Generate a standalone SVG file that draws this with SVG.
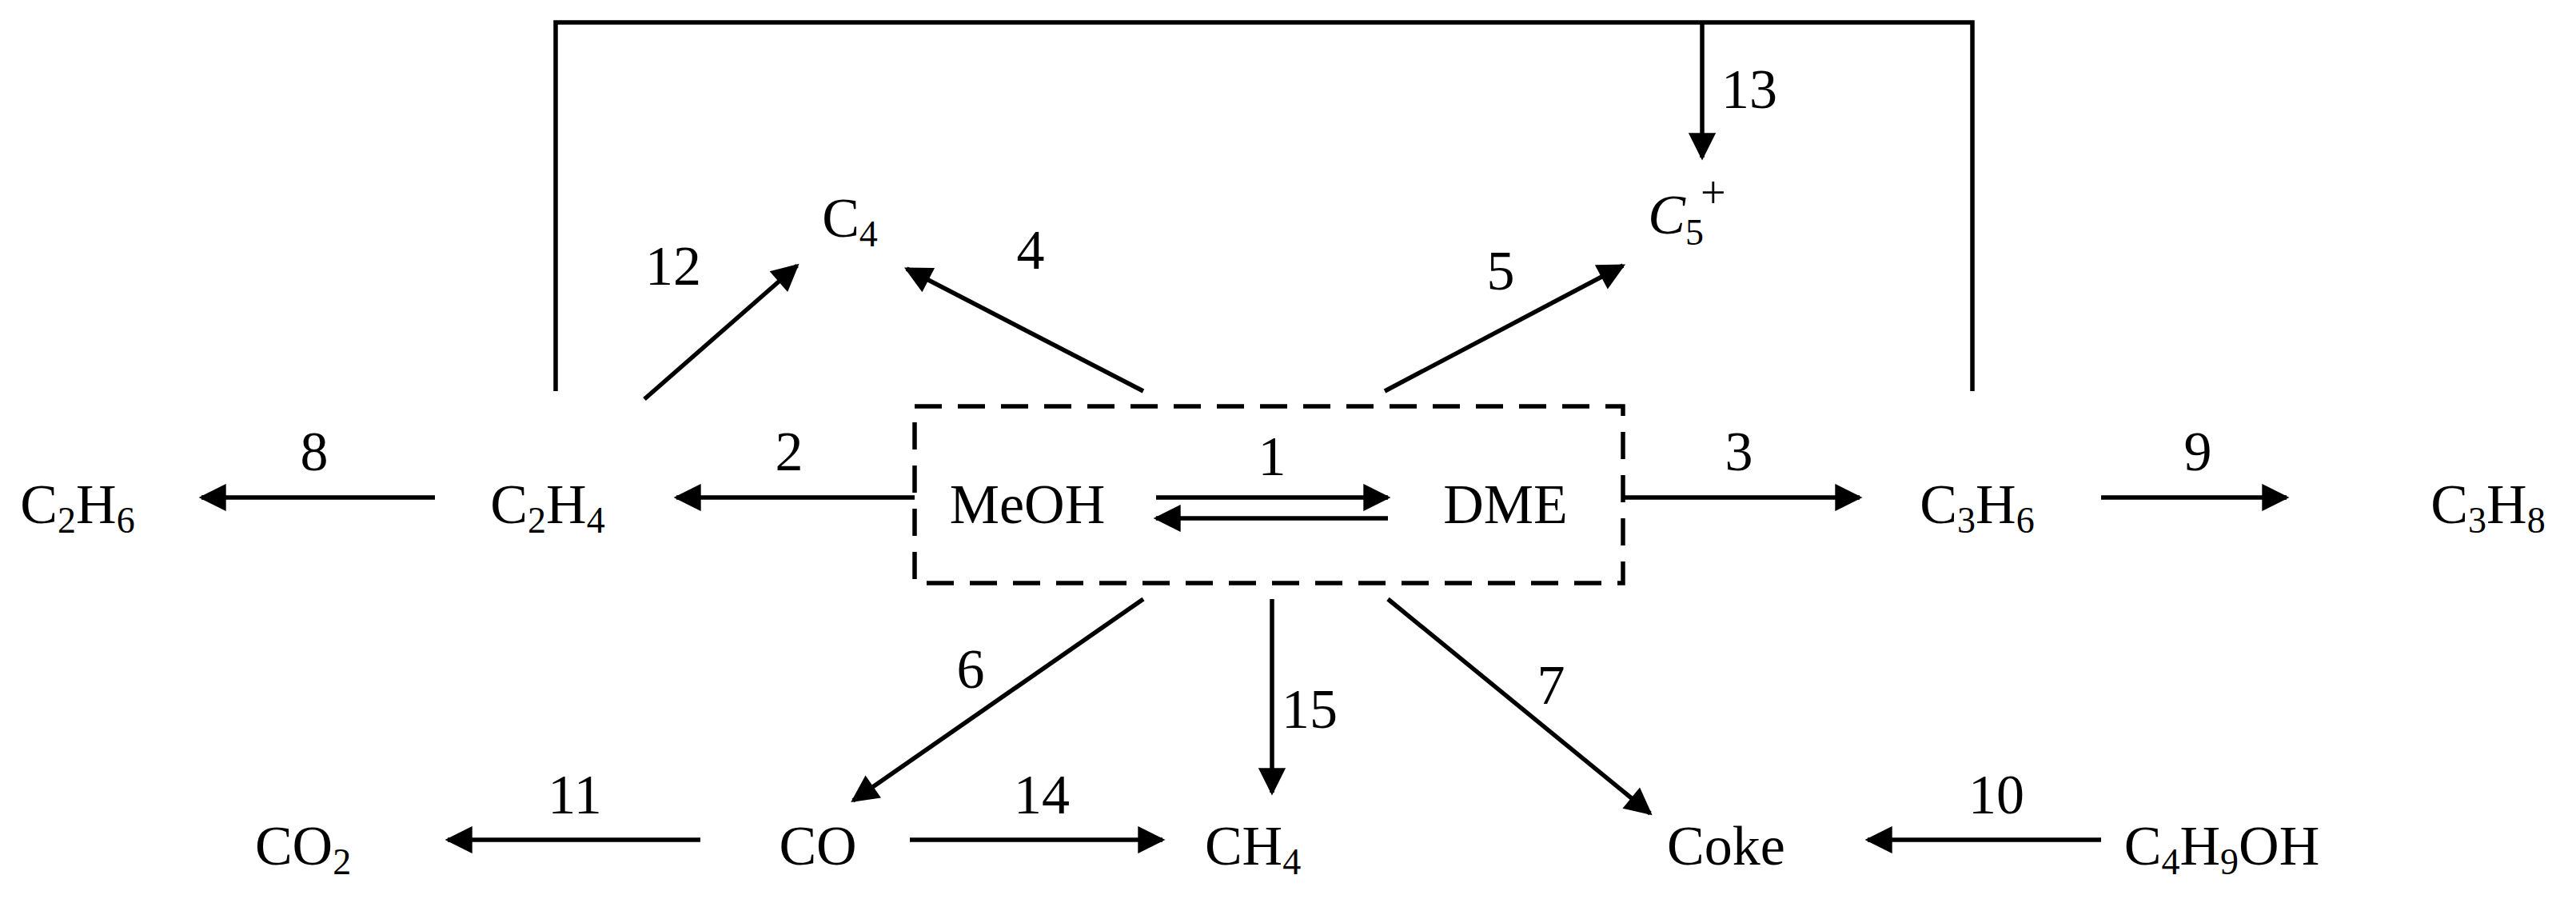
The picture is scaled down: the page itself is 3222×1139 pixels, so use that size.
<svg xmlns="http://www.w3.org/2000/svg" width="3222" height="1139" viewBox="0 0 3222 1139">
<style>
text{font-family:"Liberation Serif","Times New Roman",serif;font-size:70px;fill:#000;text-anchor:middle}
.l{stroke:#000;stroke-width:5.5;fill:none}
.a{stroke:#000;stroke-width:5.5;fill:none;marker-end:url(#ah)}
.s{font-size:46px}
</style>
<defs>
<marker id="ah" viewBox="0 0 10 10" refX="9" refY="5" markerWidth="7.5" markerHeight="6.2" markerUnits="strokeWidth" orient="auto"><path d="M0,0L10,5L0,10z" fill="#000"/></marker>
</defs>
<rect width="3222" height="1139" fill="#fff"/>
<g id="connectors">
<rect x="1144" y="508" width="886" height="221" class="l" stroke-dasharray="34,20"/>
<line x1="1446" y1="622" x2="1736" y2="622" class="a"/>
<line x1="1736" y1="648" x2="1446" y2="648" class="a"/>
<line x1="1144" y1="622" x2="846" y2="622" class="a"/>
<line x1="544" y1="622" x2="252" y2="622" class="a"/>
<line x1="2030" y1="622" x2="2326" y2="622" class="a"/>
<line x1="2628" y1="622" x2="2860" y2="622" class="a"/>
<polyline points="695,489 695,28 2467,28 2467,489" class="l"/>
<line x1="2129" y1="28" x2="2129" y2="197" class="a"/>
<line x1="806" y1="499" x2="997" y2="332" class="a"/>
<line x1="1430" y1="489" x2="1134" y2="336" class="a"/>
<line x1="1732" y1="489" x2="2030" y2="332" class="a"/>
<line x1="1430" y1="749" x2="1067" y2="1001" class="a"/>
<line x1="1591" y1="749" x2="1591" y2="991" class="a"/>
<line x1="1736" y1="749" x2="2064" y2="1017" class="a"/>
<line x1="876" y1="1050" x2="560" y2="1050" class="a"/>
<line x1="1138" y1="1050" x2="1454" y2="1050" class="a"/>
<line x1="2628" y1="1050" x2="2336" y2="1050" class="a"/>
</g>
<g id="labels">
<text x="1591" y="594">1</text>
<text x="987" y="588">2</text>
<text x="393" y="588">8</text>
<text x="2175" y="588">3</text>
<text x="2749" y="588">9</text>
<text x="2188" y="135">13</text>
<text x="842" y="356">12</text>
<text x="1289" y="336">4</text>
<text x="1877" y="362">5</text>
<text x="1214" y="860">6</text>
<text x="1638" y="910">15</text>
<text x="1940" y="880">7</text>
<text x="719" y="1017">11</text>
<text x="1303" y="1017">14</text>
<text x="2497" y="1017">10</text>
</g>
<g id="MeOH"><text x="1285" y="654">MeOH</text></g>
<g id="DME"><text x="1883" y="654">DME</text></g>
<g id="C2H4"><text x="685" y="654">C<tspan class="s" dy="12">2</tspan><tspan dy="-12">H</tspan><tspan class="s" dy="12">4</tspan></text></g>
<g id="C2H6"><text x="97" y="654">C<tspan class="s" dy="12">2</tspan><tspan dy="-12">H</tspan><tspan class="s" dy="12">6</tspan></text></g>
<g id="C3H6"><text x="2473" y="654">C<tspan class="s" dy="12">3</tspan><tspan dy="-12">H</tspan><tspan class="s" dy="12">6</tspan></text></g>
<g id="C3H8"><text x="3112" y="654">C<tspan class="s" dy="12">3</tspan><tspan dy="-12">H</tspan><tspan class="s" dy="12">8</tspan></text></g>
<g id="C4"><text x="1063" y="296">C<tspan class="s" dy="12">4</tspan></text></g>
<g id="C5plus"><text x="2110" y="292"><tspan font-style="italic">C</tspan><tspan class="s" dy="14">5</tspan><tspan font-size="56" dx="-4" dy="-46">+</tspan></text></g>
<g id="CO2"><text x="379" y="1081">CO<tspan class="s" dy="12">2</tspan></text></g>
<g id="CO"><text x="1023" y="1081">CO</text></g>
<g id="CH4"><text x="1567" y="1081">CH<tspan class="s" dy="12">4</tspan></text></g>
<g id="Coke"><text x="2159" y="1081">Coke</text></g>
<g id="C4H9OH"><text x="2779" y="1081">C<tspan class="s" dy="12">4</tspan><tspan dy="-12">H</tspan><tspan class="s" dy="12">9</tspan><tspan dy="-12">OH</tspan></text></g>
</svg>
